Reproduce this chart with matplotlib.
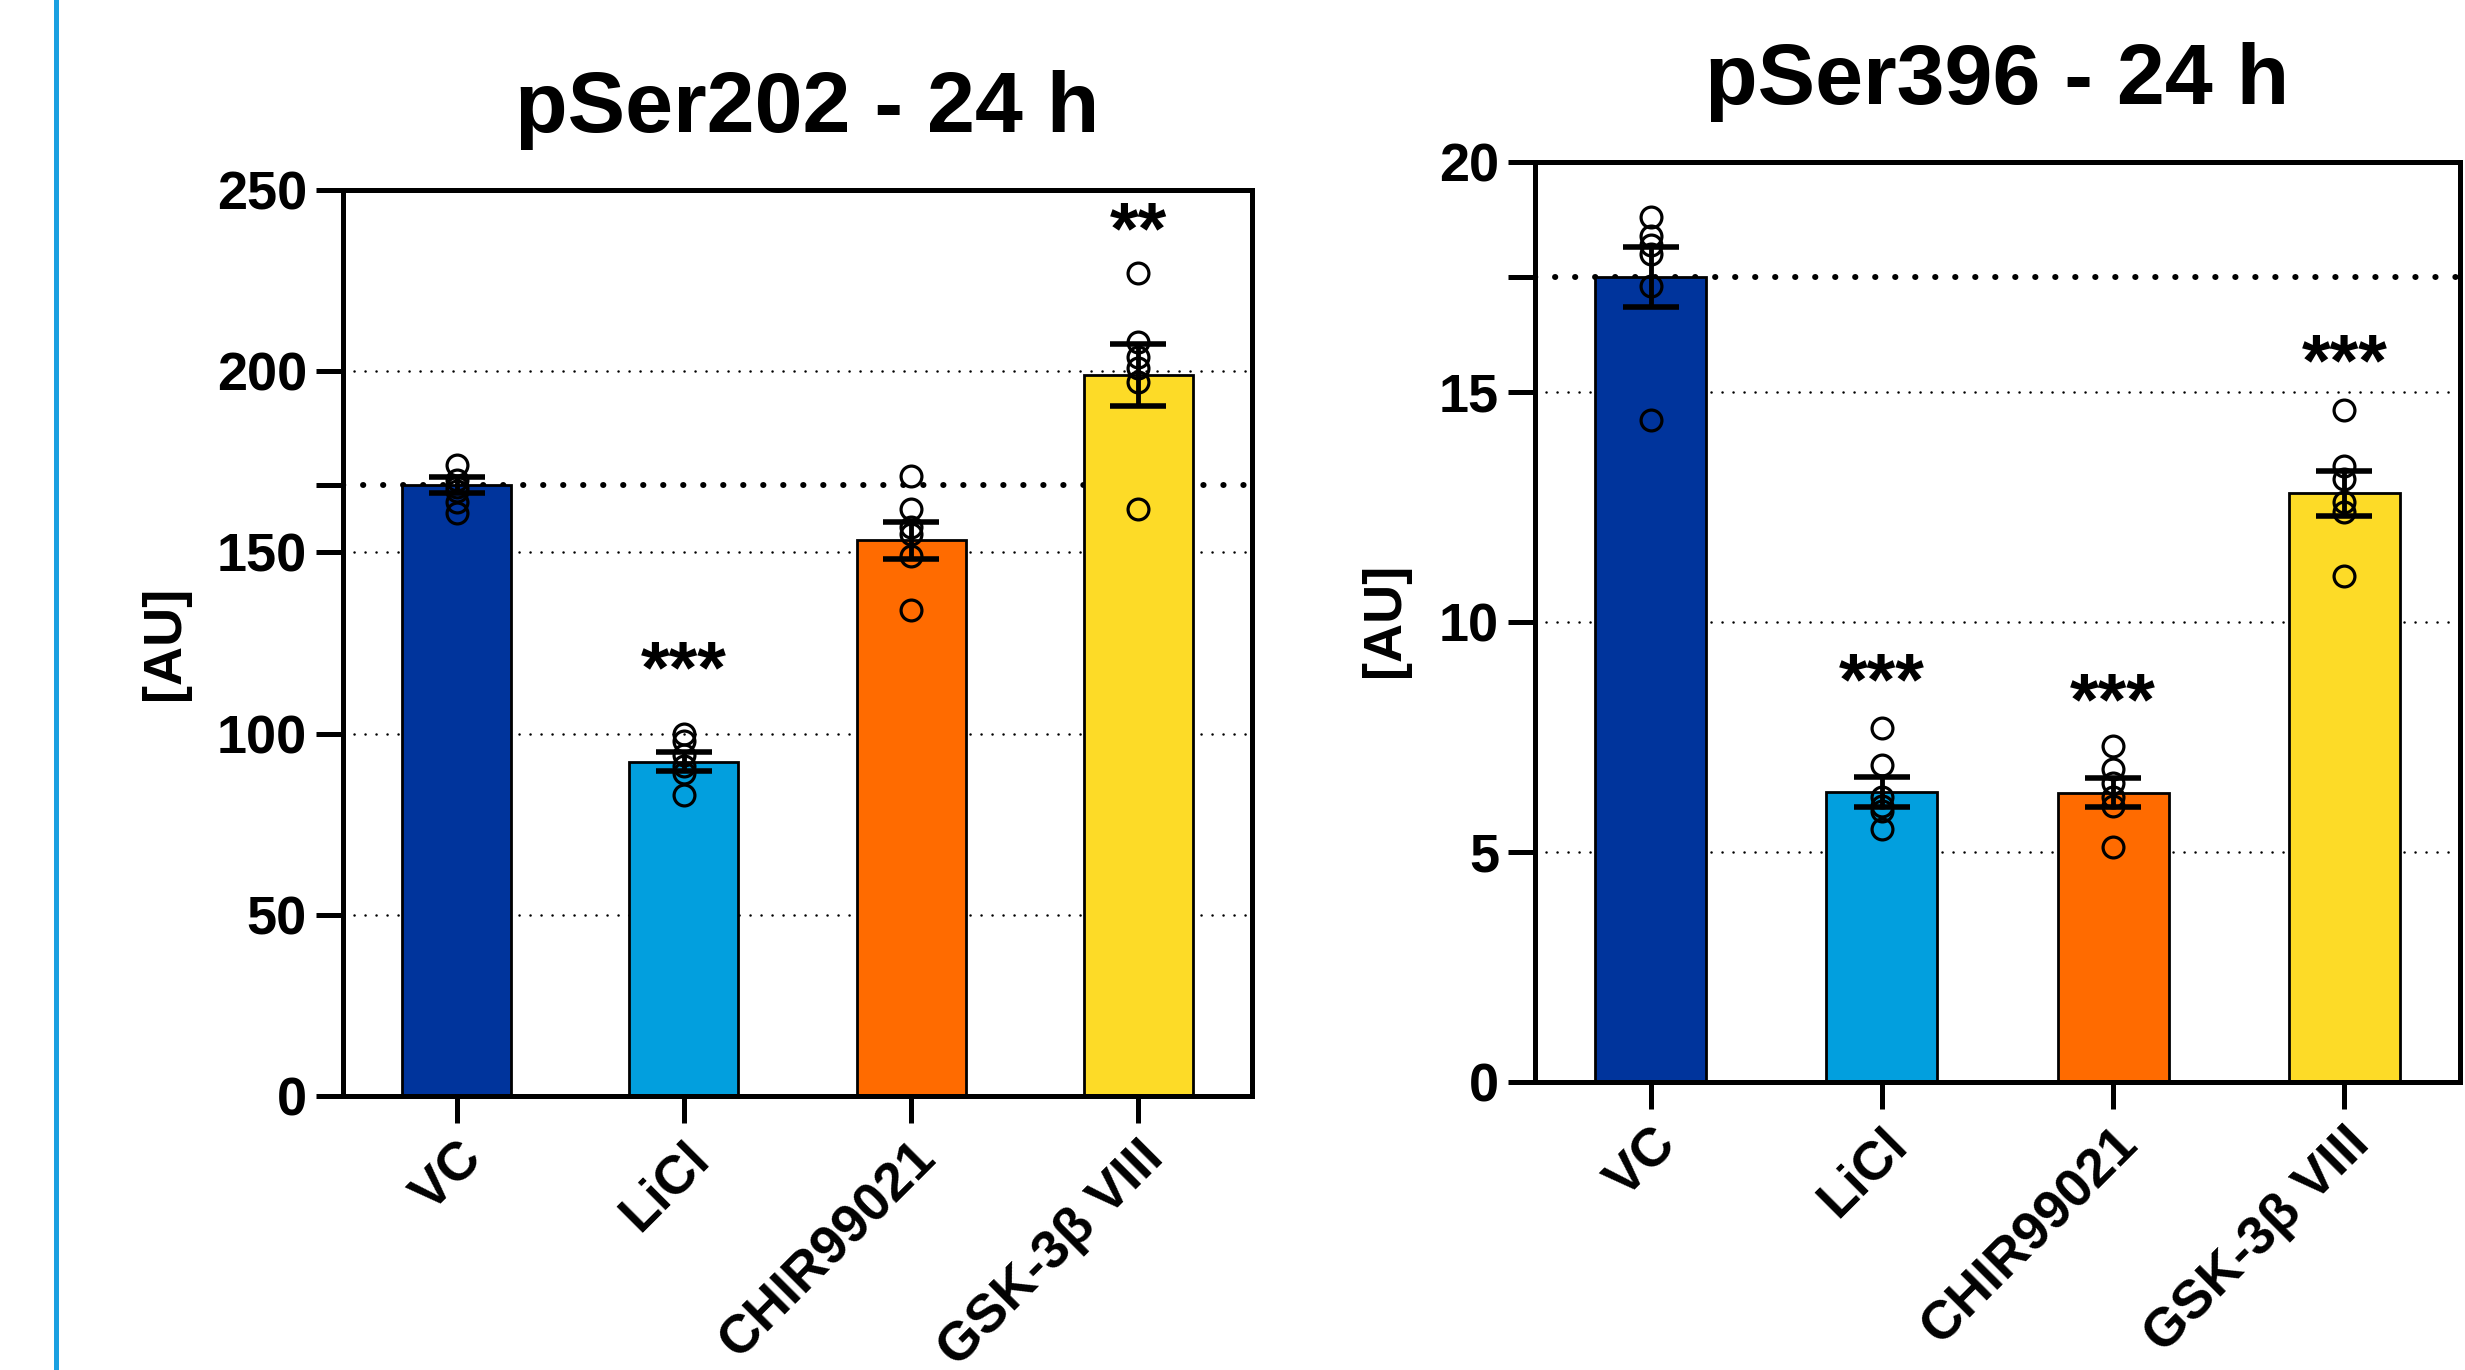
import numpy as np
import matplotlib
matplotlib.use('Agg')
import matplotlib.pyplot as plt
import matplotlib.transforms as mtransforms
from matplotlib.lines import Line2D

plt.rcParams['font.family'] = ['Liberation Sans', 'DejaVu Sans']
plt.rcParams['font.weight'] = 'bold'

groups = ['VC', 'LiCl', 'CHIR99021', 'GSK-3β VIII']
bar_colors = ['#00349C', '#029FDE', '#FF6B00', '#FDDB27']

# pSer202 - 24 h
s202_mean = [168.5, 92.3, 153.4, 199.0]
s202_sem = [2.2, 2.6, 5.1, 8.6]
s202_points = [[174, 170, 168, 167, 164, 161],
               [100, 98, 94, 91, 89, 83],
               [171, 162, 157, 155, 149, 134],
               [227, 208, 204, 201, 197, 162]]
s202_stars = ['', '***', '', '**']
s202_star_y = [0, 121, 0, 242]
s202_ticks = [0, 50, 100, 150, 200, 250]

# pSer396 - 24 h
s396_mean = [17.5, 6.31, 6.29, 12.8]
s396_sem = [0.65, 0.33, 0.31, 0.49]
s396_points = [[18.8, 18.4, 18.2, 18.0, 17.3, 14.4],
               [7.7, 6.9, 6.2, 6.0, 5.9, 5.5],
               [7.3, 6.8, 6.5, 6.2, 6.0, 5.1],
               [14.6, 13.4, 13.1, 12.6, 12.4, 11.0]]
s396_stars = ['', '***', '***', '***']
s396_star_y = [0, 8.97, 8.54, 15.9]
s396_ticks = [0, 5, 10, 15, 20]

W, H = 2465, 1370


def draw_panel(ax, title, mean, sem, points, stars, star_y, ticks,
               title_x=0.5):
    """Bar chart with SEM, single points and significance stars"""
    x = np.arange(len(groups))
    # fine dotted grid lines behind the bars
    for t in ticks[1:-1]:
        ax.axhline(t, color='black', lw=1.8, ls=(0, (0.05, 4.35)),
                   dash_capstyle='round', zorder=1)
    # heavy dotted line at control level
    ax.axhline(mean[0], color='black', lw=4.3, ls=(0, (0.05, 3.3)),
               dash_capstyle='round', zorder=1.5)
    ax.bar(x, mean, 0.48, color=bar_colors, edgecolor='black',
           linewidth=2, zorder=2)
    ax.errorbar(x, mean, yerr=sem, fmt='none', ecolor='black',
                elinewidth=3.5, capsize=20.5, capthick=4, zorder=4)
    for i, pts in enumerate(points):
        ax.plot(np.full(len(pts), x[i]), pts, 'o', ms=15, mfc='none',
                mec='black', mew=2.3, zorder=5)
    star_tr = mtransforms.offset_copy(ax.transData, fig=ax.figure,
                                      y=-25, units='points')
    for i, s in enumerate(stars):
        if s:
            ax.text(x[i], star_y[i], s, ha='center', va='baseline',
                    fontsize=53, transform=star_tr)

    ax.set_xlim(-0.5, len(groups) - 0.5)
    ax.set_ylim(ticks[0], ticks[-1])
    ax.set_yticks(ticks)
    ax.set_yticks([mean[0]], minor=True)
    ax.set_xticks(x, groups, rotation=45, ha='right',
                  rotation_mode='anchor')
    ax.tick_params(which='both', length=19.4, width=3.6, labelsize=39)
    ax.tick_params(axis='y', pad=6.5)
    ax.tick_params(axis='x', pad=7)
    for sp in ax.spines.values():
        sp.set_linewidth(3.6)
    ax.set_title(title, fontsize=62, fontweight='bold', pad=42, x=title_x)


fig = plt.figure(figsize=(W / 100, H / 100), dpi=100)

ax1 = fig.add_axes([343 / W, (H - 1096) / H, (1252 - 343) / W,
                    (1096 - 190) / H])
draw_panel(ax1, 'pSer202 - 24 h', s202_mean, s202_sem, s202_points,
           s202_stars, s202_star_y, s202_ticks, title_x=0.511)

ax2 = fig.add_axes([1535 / W, (H - 1082) / H, (2460 - 1535) / W,
                    (1082 - 162) / H])
draw_panel(ax2, 'pSer396 - 24 h', s396_mean, s396_sem, s396_points,
           s396_stars, s396_star_y, s396_ticks)

fig.text(165 / W, 1 - 643 / H, '[AU]', rotation=90, ha='center',
         va='center', fontsize=39)
fig.text(1385 / W, 1 - 620 / H, '[AU]', rotation=90, ha='center',
         va='center', fontsize=39)

# blue separator line on the left
fig.add_artist(Line2D([56 / W, 56 / W], [0, 1], color='#1AA0E1', lw=3.6))

fig.savefig('out.png', dpi=100)
